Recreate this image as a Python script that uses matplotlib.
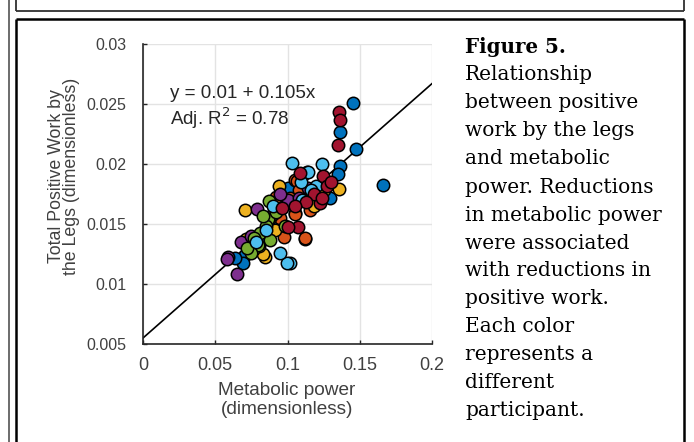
import matplotlib
matplotlib.use("Agg")
import matplotlib.pyplot as plt
from matplotlib.lines import Line2D
import numpy as np

plt.rcParams['font.family'] = ['Liberation Sans', 'DejaVu Sans']

# ---- data (one list pair per participant) ----
blue_x = [0.1455, 0.1363, 0.1474, 0.1363, 0.1347, 0.1294, 0.1663, 0.0706, 0.0694, 0.0640, 0.0760, 0.0890, 0.0830, 0.0980, 0.1100, 0.0930, 0.1000]
blue_y = [0.02506, 0.02269, 0.02125, 0.01983, 0.01917, 0.01717, 0.01825, 0.01242, 0.01173, 0.0122, 0.0130, 0.0150, 0.0140, 0.0168, 0.0176, 0.0160, 0.0180]

orange_x = [0.1121, 0.1052, 0.1052, 0.1064, 0.0918, 0.1052, 0.1156, 0.1052, 0.0976, 0.1121, 0.1020, 0.1100, 0.0950, 0.1200, 0.1080]
orange_y = [0.01375, 0.0159, 0.01867, 0.01861, 0.01722, 0.01714, 0.01617, 0.01583, 0.01394, 0.01381, 0.0172, 0.0190, 0.0155, 0.0170, 0.0178]

yellow_x = [0.1356, 0.0941, 0.0706, 0.0913, 0.0711, 0.0844, 0.0833, 0.0800, 0.0880, 0.1180, 0.0760, 0.1250]
yellow_y = [0.01792, 0.01819, 0.01617, 0.0145, 0.01372, 0.01228, 0.0125, 0.0132, 0.0155, 0.0165, 0.0128, 0.0178]

purple_x = [0.1151, 0.1142, 0.0791, 0.0590, 0.0584, 0.0653, 0.0680, 0.0900, 0.1000, 0.0750, 0.1080, 0.0950]
purple_y = [0.01789, 0.0180, 0.01622, 0.01228, 0.01206, 0.01083, 0.0135, 0.0158, 0.0170, 0.0140, 0.0172, 0.0175]

green_x = [0.0874, 0.0867, 0.0983, 0.0810, 0.0798, 0.0745, 0.0770, 0.0850, 0.0920, 0.0720, 0.0880, 0.0830]
green_y = [0.01692, 0.01539, 0.01483, 0.01422, 0.01325, 0.01256, 0.0138, 0.0148, 0.0160, 0.0130, 0.0137, 0.0157]

lightblue_x = [0.1241, 0.1029, 0.1133, 0.1142, 0.1017, 0.0994, 0.0948, 0.1090, 0.1100, 0.0900, 0.1200, 0.0850, 0.1160, 0.0780]
lightblue_y = [0.0200, 0.02006, 0.01936, 0.01933, 0.01175, 0.01173, 0.01261, 0.0185, 0.0170, 0.0165, 0.0182, 0.0145, 0.0178, 0.0135]

darkred_x = [0.1356, 0.1363, 0.1347, 0.1248, 0.1271, 0.1225, 0.1073, 0.1087, 0.1006, 0.1180, 0.1130, 0.1240, 0.1300, 0.1050, 0.0960]
darkred_y = [0.0243, 0.02367, 0.02158, 0.0190, 0.01817, 0.01678, 0.01475, 0.01925, 0.01478, 0.0175, 0.0168, 0.0172, 0.0185, 0.0165, 0.0163]

fit_intercept = 0.0055
fit_slope = 0.106

x_ticks = [0, 0.05, 0.1, 0.15, 0.2]
x_tick_labels = ['0', '0.05', '0.1', '0.15', '0.2']
y_ticks = [0.005, 0.01, 0.015, 0.02, 0.025, 0.03]
y_tick_labels = ['0.005', '0.01', '0.015', '0.02', '0.025', '0.03']

caption_lines = ["Relationship", "between positive", "work by the legs", "and metabolic",
                 "power. Reductions", "in metabolic power", "were associated",
                 "with reductions in", "positive work.", "Each color",
                 "represents a", "different", "participant."]

series = [
    (blue_x, blue_y, '#0072BD'),
    (orange_x, orange_y, '#D95319'),
    (yellow_x, yellow_y, '#EDB120'),
    (purple_x, purple_y, '#7E2F8E'),
    (green_x, green_y, '#77AC30'),
    (lightblue_x, lightblue_y, '#4DBEEE'),
    (darkred_x, darkred_y, '#A2142F'),
]

W, H = 694, 442
fig = plt.figure(figsize=(W / 100, H / 100), dpi=100)

def fx(px):
    return px / W

def fy(py):
    return 1 - py / H

ax = fig.add_axes([fx(143), fy(344), fx(432) - fx(143), fy(44) - fy(344)])
ax.set_xlim(0, 0.2)
ax.set_ylim(0.005, 0.03)

tick_color = '#404040'
ax.grid(True, color='#e3e3e3', linewidth=1.0)
ax.set_axisbelow(True)
for s in ['top', 'right']:
    ax.spines[s].set_visible(False)
for s in ['left', 'bottom']:
    ax.spines[s].set_color('#262626')
    ax.spines[s].set_linewidth(1.2)
ax.set_xticks(x_ticks)
ax.set_xticklabels(x_tick_labels)
ax.set_yticks(y_ticks)
ax.set_yticklabels(y_tick_labels)
ax.tick_params(direction='in', length=3, width=1, colors='#262626', labelcolor=tick_color)
ax.tick_params(axis='x', labelsize=13, pad=9)
ax.tick_params(axis='y', labelsize=11.5, pad=12)

xl = np.array([0, 0.2])
ax.plot(xl, fit_intercept + fit_slope * xl, color='black', linewidth=1.2, zorder=2)

for xs, ys, c in series:
    ax.scatter(xs, ys, s=80, facecolor=c, edgecolor='black', linewidth=1.1, zorder=3)

ax.text(0.0187, 0.0259, 'y = 0.01 + 0.105x', fontsize=13.5, color='#262626', va='center')
ax.text(0.0187, 0.0238, 'Adj. R$^2$ = 0.78', fontsize=13.5, color='#262626', va='center')

fig.text(fx(64), fy(176), 'Total Positive Work by\nthe Legs (dimensionless)', rotation=90,
         ha='center', va='center', fontsize=12.8, color=tick_color, linespacing=0.9)
fig.text(fx(287), fy(400), 'Metabolic power\n(dimensionless)', ha='center', va='center',
         fontsize=13.7, color=tick_color, linespacing=1.2)

# caption
serif = ['DejaVu Serif', 'Liberation Serif']
fig.text(fx(465), fy(47), 'Figure 5.', fontsize=14.3, fontweight='bold', family=serif,
         va='center', ha='left', color='black')
for i, line in enumerate(caption_lines):
    fig.text(fx(465), fy(47 + 28.0 * (i + 1)), line, fontsize=14.5, family=serif,
             va='center', ha='left', color='black')

# document box borders
def seg(x0, y0, x1, y1, color='black', lw=1.6):
    fig.add_artist(Line2D([fx(x0), fx(x1)], [fy(y0), fy(y1)], color=color, linewidth=lw,
                          transform=fig.transFigure, solid_capstyle='butt'))

seg(9, 0, 9, H, color='#606060', lw=1.3)
seg(15.5, 0, 15.5, 10.5, color='#303030', lw=1.3)
seg(15.5, 10.5, 683.5, 10.5, color='#303030', lw=1.3)
seg(683.5, 0, 683.5, 10.5, color='#303030', lw=1.3)
seg(15.5, 19, 15.5, H, lw=1.8)
seg(15.5, 19, 683.5, 19, lw=1.8)
seg(683.5, 19, 683.5, H, lw=1.8)

fig.savefig('out.png', dpi=100)
